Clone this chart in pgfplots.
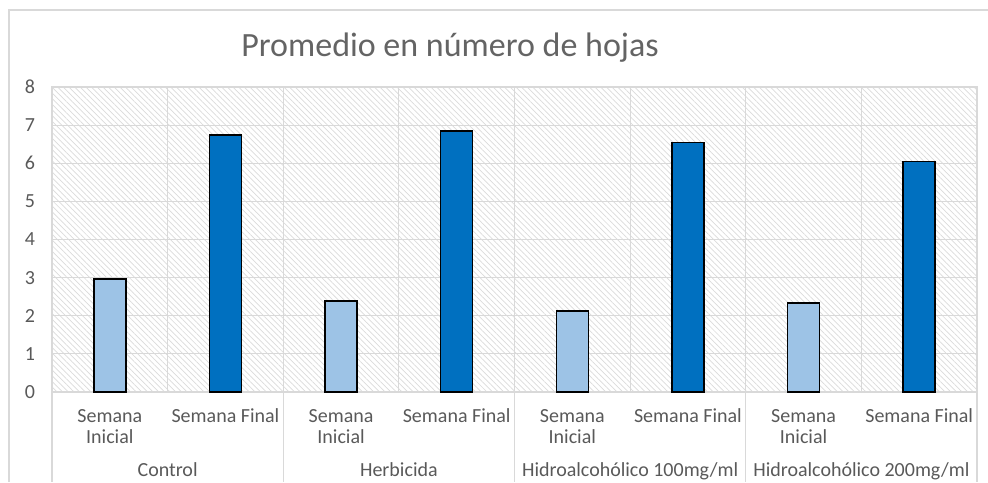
\documentclass[border=0pt]{standalone}
\usepackage{pgfplots}
\pgfplotsset{compat=1.18}
\usepackage{fontspec}
\setmainfont{Carlito}
\usetikzlibrary{patterns.meta}
\definecolor{txt}{HTML}{595959}
\definecolor{ttl}{HTML}{646464}
\definecolor{gridc}{HTML}{D9D9D9}
\definecolor{lightb}{HTML}{9DC3E6}
\definecolor{darkb}{HTML}{0070C0}
\begin{document}
\begin{tikzpicture}
\useasboundingbox (0,0) rectangle (494pt,241pt);
\draw[gridc, line width=0.6pt] (4.5pt,0) -- (4.5pt,236pt) -- (494pt,236pt);
\node[ttl, font=\fontsize{17}{20}\selectfont] at (225pt,217pt) {Promedio en número de hojas};
\begin{axis}[
  at={(26pt,45pt)}, anchor=south west,
  scale only axis, width=462.5pt, height=152.5pt,
  xmin=-0.5, xmax=7.5, ymin=0, ymax=8,
  xtick={0,...,7},
  xticklabels={{Semana\\Inicial},{Semana Final},{Semana\\Inicial},{Semana Final},{Semana\\Inicial},{Semana Final},{Semana\\Inicial},{Semana Final}},
  minor xtick={0.5,1.5,...,6.5},
  ytick={0,...,8},
  xminorgrids, ymajorgrids,
  grid style={gridc, line width=0.6pt},
  minor grid style={gridc, line width=0.6pt},
  axis line style={gridc, line width=0.6pt},
  major tick length=0pt, minor tick length=0pt,
  tick style={draw=none},
  /pgf/number format/assume math mode=true,
  yticklabel style={txt, font=\fontsize{10}{10}\selectfont, xshift=-5pt},
  xticklabel style={txt, font=\fontsize{10}{10.5}\selectfont, align=center, anchor=north, yshift=-5pt},
  axis background/.style={fill=white, postaction={pattern={Lines[angle=-45,distance=2pt,line width=0.35pt]}, pattern color=gray!28}},
  clip=false,
]
\addplot[ybar, bar width=0.277, bar shift=0pt, fill=lightb, draw=black, line width=0.75pt]
  coordinates {(0,2.96) (2,2.39) (4,2.13) (6,2.33)};
\addplot[ybar, bar width=0.277, bar shift=0pt, fill=darkb, draw=black, line width=0.75pt]
  coordinates {(1,6.74) (3,6.85) (5,6.54) (7,6.05)};
\pgfplotsinvokeforeach{-0.5,1.5,3.5,5.5,7.5}{
  \draw[gridc, line width=0.6pt] (axis cs:#1,0) -- ++(0pt,-45pt);
}
\path (axis cs:0.5,0) ++(0pt,-42pt) node[anchor=base, txt, font=\fontsize{10}{10}\selectfont] {Control};
\path (axis cs:2.5,0) ++(0pt,-42pt) node[anchor=base, txt, font=\fontsize{10}{10}\selectfont] {Herbicida};
\path (axis cs:4.5,0) ++(0pt,-42pt) node[anchor=base, txt, font=\fontsize{10}{10}\selectfont] {Hidroalcohólico 100mg/ml};
\path (axis cs:6.5,0) ++(0pt,-42pt) node[anchor=base, txt, font=\fontsize{10}{10}\selectfont] {Hidroalcohólico 200mg/ml};
\end{axis}
\end{tikzpicture}
\end{document}
